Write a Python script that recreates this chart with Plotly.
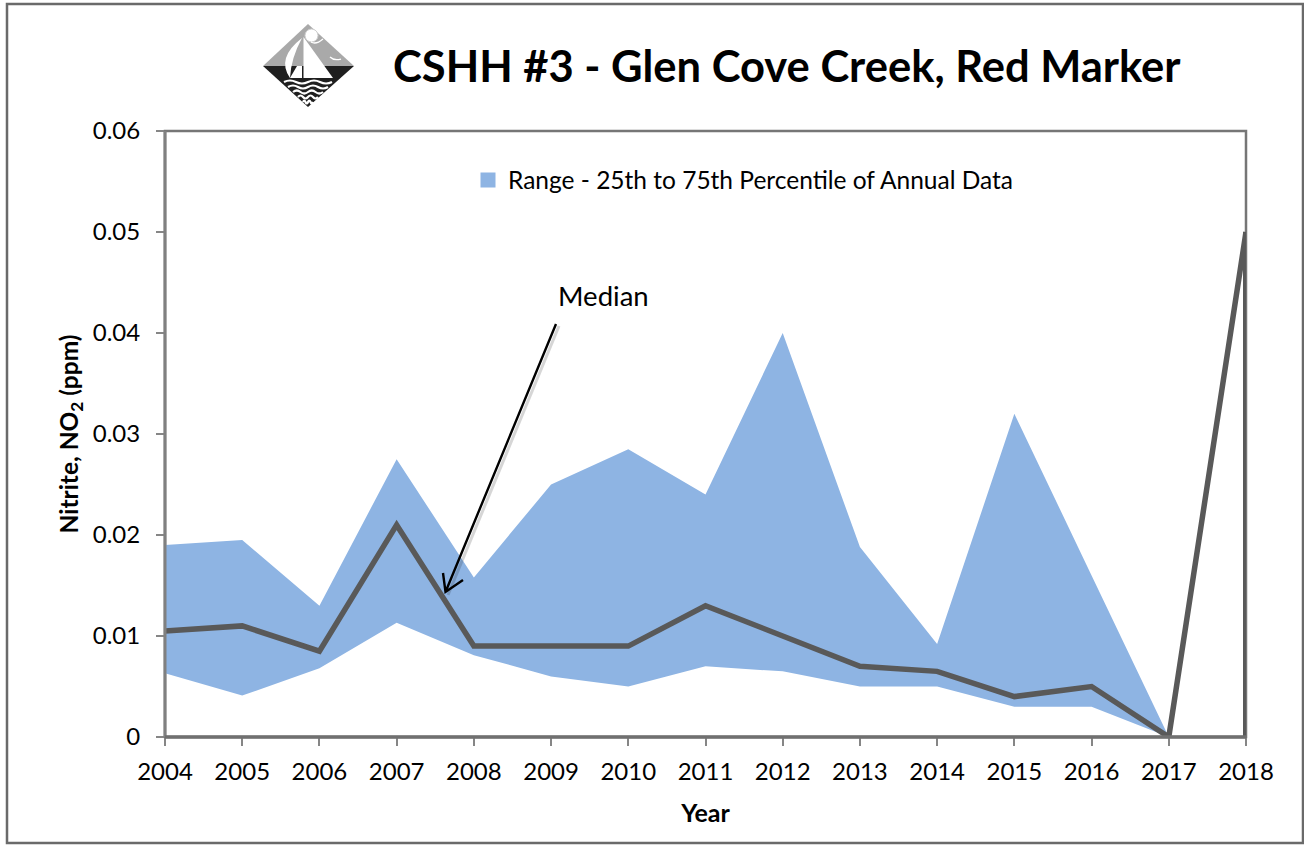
import plotly.graph_objects as go

years = list(range(2004, 2019))
p25 = [0.0063, 0.0041, 0.0068, 0.0113, 0.0081, 0.0060, 0.0050, 0.0070, 0.0065, 0.0050, 0.0050, 0.0030, 0.0030, 0.0, 0.05]
p75 = [0.0190, 0.0195, 0.0130, 0.0275, 0.0158, 0.0250, 0.0285, 0.0240, 0.0400, 0.0188, 0.0092, 0.0320, 0.0160, 0.0, 0.05]
median = [0.0105, 0.0110, 0.0085, 0.0210, 0.0090, 0.0090, 0.0090, 0.0130, 0.0100, 0.0070, 0.0065, 0.0040, 0.0050, 0.0, 0.05]
drop_x = [2018, 2018]
drop_y = [0.05, 0.0]
title = "CSHH #3 - Glen Cove Creek, Red Marker"
legend_name = "Range - 25th to 75th Percentile of Annual Data"

W, H = 1304, 845
L, R, T, B = 165, 1246, 131, 737
FONT = "Lato"
GREY = "#595959"
AXIS = "#767676"

def px(x):
    return (x - L) / (R - L)

def py(y):
    return (B - y) / (B - T)

def pt(a, b):
    return f"{px(a):.5f},{py(b):.5f}"

def P(points):
    return "M" + " L".join(pt(a, b) for a, b in points) + " Z"

def paper_shape(path, color="rgba(0,0,0,0)", line=None):
    return dict(type="path", xref="paper", yref="paper", path=path, fillcolor=color,
                line=dict(width=0) if line is None else line, layer="above")

fig = go.Figure()
fig.add_trace(go.Scatter(x=years, y=p25, mode="lines", line=dict(width=0), showlegend=False, hoverinfo="skip"))
fig.add_trace(go.Scatter(x=years, y=p75, mode="lines", line=dict(width=0), fill="tonexty",
                         fillcolor="#8EB4E3", showlegend=False, hoverinfo="skip"))
fig.add_trace(go.Scatter(x=years, y=median, mode="lines",
                         line=dict(color=GREY, width=5.5), showlegend=False, cliponaxis=False))
fig.add_trace(go.Scatter(x=drop_x, y=drop_y, mode="lines",
                         line=dict(color=GREY, width=6), showlegend=False, cliponaxis=False))
fig.add_trace(go.Scatter(x=[None], y=[None], mode="markers", name=legend_name,
                         marker=dict(symbol="square", size=15, color="#8EB4E3")))

shapes = [
    dict(type="rect", xref="paper", yref="paper", x0=px(7), x1=px(1303), y0=py(843), y1=py(4),
         line=dict(color="#6a6a6a", width=2.5), fillcolor="rgba(0,0,0,0)", layer="below"),
    # plot border
    dict(type="rect", xref="paper", yref="paper", x0=0, x1=1, y0=0, y1=1,
         line=dict(color=AXIS, width=2.5), fillcolor="rgba(0,0,0,0)", layer="between"),
    dict(type="line", xref="paper", yref="paper", x0=0, x1=0, y0=0, y1=1,
         line=dict(color="#808080", width=3), layer="above"),
    dict(type="line", xref="paper", yref="paper", x0=0, x1=1, y0=0, y1=0,
         line=dict(color="#707070", width=3.5), layer="above"),
    # arrow shadow, then arrow with open head
    paper_shape(f"M{pt(559, 326)} L{pt(448, 595)}", line=dict(color="rgba(0,0,0,0.16)", width=3)),
    paper_shape(f"M{pt(556, 324)} L{pt(445.5, 592)} M{pt(443, 573)} L{pt(445.5, 592)} L{pt(463, 580)}",
                line=dict(color="black", width=2.4)),
    # logo: sky, sea, sails, sun, gulls, waves
    paper_shape(P([(263, 66), (308, 24), (354, 66)]), "#a9a9a9"),
    paper_shape(P([(263, 66), (354, 66), (308, 107)]), "#1f1f1f"),
    paper_shape(f"M{pt(302, 38)} Q{pt(276, 58)} {pt(290, 78)} Q{pt(291, 58)} {pt(302, 38)} Z", "white"),
    paper_shape(P([(303.5, 37), (303.5, 78), (333, 78)]), "white"),
    paper_shape(P([(290, 78), (302, 78), (302, 66), (297, 66)]), "white"),
    dict(type="circle", xref="paper", yref="paper", x0=px(305), x1=px(318), y0=py(42), y1=py(29),
         fillcolor="white", line=dict(color="#cfcfcf", width=1), layer="above"),
    paper_shape(f"M{pt(311, 42)} Q{pt(316, 45)} {pt(323, 39)}", line=dict(color="white", width=1.3)),
    paper_shape(f"M{pt(330, 57)} Q{pt(334, 61)} {pt(341, 59)}", line=dict(color="white", width=1.3)),
]
for wave_y, half in [(82, 24), (87, 20), (92, 15), (97, 10), (102, 5)]:
    x0 = 308 - half
    x1 = 308 + half
    st = (x1 - x0) / 4
    shapes.append(paper_shape(
        f"M{pt(x0, wave_y)} Q{pt(x0 + st / 2, wave_y - 3)} {pt(x0 + st, wave_y)} "
        f"T{pt(x0 + 2 * st, wave_y)} T{pt(x0 + 3 * st, wave_y)} T{pt(x1, wave_y)}",
        line=dict(color="white", width=2.2)))

annotations = [
    dict(xref="paper", yref="paper", x=px(786.5), y=py(65), text=f"<b>{title}</b>", showarrow=False,
         font=dict(family=FONT, size=43.5, color="black"), xanchor="center", yanchor="middle"),
    dict(xref="paper", yref="paper", x=px(603), y=py(295), text="Median", showarrow=False,
         font=dict(family=FONT, size=27.5, color="black"), xanchor="center", yanchor="middle"),
]

fig.update_layout(
    width=W, height=H, autosize=False,
    margin=dict(l=L, r=W - R, t=T, b=H - B, pad=0),
    paper_bgcolor="white", plot_bgcolor="white",
    font=dict(family=FONT, size=24, color="black"),
    shapes=shapes, annotations=annotations,
    legend=dict(x=px(468), y=py(180), xanchor="left", yanchor="middle", bgcolor="rgba(0,0,0,0)",
                font=dict(family=FONT, size=24.5), itemwidth=30),
    xaxis=dict(range=[2004, 2018], tickvals=years, ticktext=[str(y) for y in years], ticks="outside",
               ticklen=8, tickcolor="#868686", tickwidth=1.5, showgrid=False, zeroline=False,
               showline=False, ticklabelstandoff=5,
               title=dict(text="<b>Year</b>", font=dict(family=FONT, size=25), standoff=20)),
    yaxis=dict(range=[0, 0.06], tickvals=[0, 0.01, 0.02, 0.03, 0.04, 0.05, 0.06],
               ticktext=["0", "0.01", "0.02", "0.03", "0.04", "0.05", "0.06"], ticks="outside",
               ticklen=8, tickcolor="#868686", tickwidth=1.5, showgrid=False, zeroline=False,
               showline=False, ticklabelstandoff=11,
               title=dict(text="<b>Nitrite, NO<sub>2</sub> (ppm)</b>", font=dict(family=FONT, size=24.5), standoff=7)),
)
fig.write_html("out.html", config=dict(displayModeBar=False),
               post_script="document.body.style.margin='0';document.body.style.overflow='hidden';")
